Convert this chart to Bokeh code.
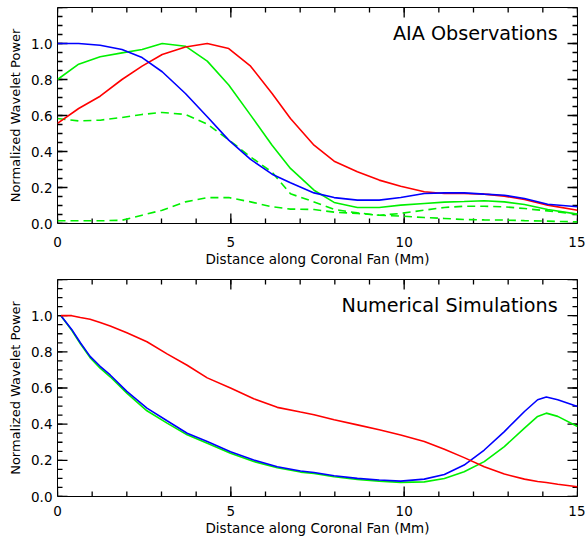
import numpy as np
from bokeh.plotting import figure
from bokeh.models import (LinearAxis, SingleIntervalTicker, PrintfTickFormatter,
                          Label, Range1d)
from bokeh.layouts import column
from bokeh.embed import file_html
from bokeh.resources import INLINE

FONT = "DejaVu Sans"

# ---------------- AIA observations (top panel) ----------------
x_obs = [0, 0.61, 1.23, 1.86, 2.44, 3.02, 3.69, 4.32, 4.94, 5.57, 6.19, 6.72,
         7.4, 7.98, 8.65, 9.28, 9.9, 10.58, 11.16, 11.73, 12.31, 12.89, 13.47,
         14.14, 15.0]
obs_blue = [1.0, 1.0, 0.99, 0.967, 0.922, 0.843, 0.722, 0.593, 0.463, 0.356,
            0.274, 0.226, 0.17, 0.144, 0.13, 0.13, 0.144, 0.167, 0.17, 0.17,
            0.163, 0.157, 0.139, 0.107, 0.093]
obs_red = [0.556, 0.639, 0.707, 0.80, 0.874, 0.939, 0.981, 1.0, 0.972, 0.874,
           0.722, 0.583, 0.435, 0.346, 0.287, 0.241, 0.207, 0.176, 0.167,
           0.167, 0.163, 0.152, 0.133, 0.102, 0.074]
obs_green = [0.80, 0.885, 0.926, 0.948, 0.967, 1.0, 0.985, 0.902, 0.769, 0.602,
             0.435, 0.306, 0.185, 0.117, 0.089, 0.089, 0.102, 0.111, 0.119,
             0.122, 0.126, 0.12, 0.106, 0.078, 0.052]
obs_green_hi = [0.583, 0.570, 0.574, 0.589, 0.606, 0.617, 0.606, 0.552, 0.465,
                0.37, 0.285, 0.165, 0.12, 0.078, 0.059, 0.046, 0.056, 0.074,
                0.089, 0.096, 0.096, 0.093, 0.083, 0.07, 0.052]
obs_green_lo = [0.015, 0.015, 0.015, 0.018, 0.046, 0.074, 0.12, 0.144, 0.144,
                0.12, 0.093, 0.08, 0.078, 0.063, 0.056, 0.046, 0.041, 0.033,
                0.028, 0.022, 0.02, 0.019, 0.016, 0.013, 0.009]

# ---------------- Numerical simulations (bottom panel) ----------------
x_sim = [0.1, 0.41, 0.66, 0.94, 1.23, 1.52, 2.0, 2.58, 3.16, 3.74, 4.32, 4.99,
         5.66, 6.34, 7.01, 7.4, 7.98, 8.65, 9.28, 9.9, 10.58, 11.16, 11.73,
         12.31, 12.89, 13.47, 13.85, 14.1, 14.43, 15.0]
sim_red = [1.0, 1.0, 0.99, 0.98, 0.962, 0.943, 0.906, 0.856, 0.789, 0.726,
           0.656, 0.6, 0.541, 0.493, 0.467, 0.452, 0.424, 0.396, 0.369, 0.34,
           0.304, 0.261, 0.215, 0.165, 0.124, 0.096, 0.083, 0.077, 0.068, 0.054]
sim_blue = [1.0, 0.924, 0.85, 0.775, 0.72, 0.672, 0.581, 0.489, 0.419, 0.35,
            0.304, 0.248, 0.202, 0.165, 0.141, 0.133, 0.115, 0.1, 0.091, 0.085,
            0.096, 0.122, 0.174, 0.257, 0.359, 0.47, 0.535, 0.55, 0.535, 0.498]
sim_green = [1.0, 0.919, 0.845, 0.768, 0.71, 0.662, 0.572, 0.474, 0.406, 0.341,
             0.294, 0.239, 0.193, 0.159, 0.135, 0.128, 0.109, 0.094, 0.085,
             0.078, 0.081, 0.1, 0.137, 0.193, 0.276, 0.378, 0.443, 0.461,
             0.443, 0.387]

x_label = "Distance along Coronal Fan (Mm)"
y_label = "Normalized Wavelet Power"

X_MIN, X_MAX, X_MAJOR, X_MINOR = 0, 15, 5, 1
Y_MIN, Y_MAX, Y_MAJOR, Y_MINOR = 0, 1.2, 0.2, 0.05

WIDTH = 585
BORDER_L, BORDER_R = 57, 8
MAJOR_PX, MINOR_PX = 10, 5

RED, GREEN, BLUE = "#ff0000", "#00f000", "#0000ff"
LW = 1.6


def label_axis(ax, tick_standoff, label_standoff):
    ax.axis_line_color = None
    ax.major_tick_line_color = None
    ax.minor_tick_line_color = None
    ax.major_tick_out = 0
    ax.minor_tick_out = 0
    ax.major_tick_in = 0
    ax.minor_tick_in = 0
    ax.major_label_text_font = FONT
    ax.major_label_text_font_size = "13.5px"
    ax.major_label_text_color = "black"
    ax.major_label_standoff = tick_standoff
    ax.axis_label_text_font = FONT
    ax.axis_label_text_font_size = "13.5px"
    ax.axis_label_text_font_style = "normal"
    ax.axis_label_text_color = "black"
    ax.axis_label_standoff = label_standoff


def inward_ticks(p, frame_h):
    # IDL-style inward ticks on all four sides (pixel lengths -> data units)
    frame_w = WIDTH - BORDER_L - BORDER_R
    dx = (X_MAX - X_MIN) / frame_w
    dy = (Y_MAX - Y_MIN) / frame_h
    xs_list, ys_list = [], []
    for step, px in ((X_MAJOR, MAJOR_PX), (X_MINOR, MINOR_PX)):
        for xv in np.arange(X_MIN, X_MAX + 1e-9, step):
            xs_list += [[xv, xv], [xv, xv]]
            ys_list += [[Y_MIN, Y_MIN + px * dy], [Y_MAX, Y_MAX - px * dy]]
    for step, px in ((Y_MAJOR, MAJOR_PX), (Y_MINOR, MINOR_PX)):
        for yv in np.arange(Y_MIN, Y_MAX + 1e-9, step):
            xs_list += [[X_MIN, X_MIN + px * dx], [X_MAX, X_MAX - px * dx]]
            ys_list += [[yv, yv], [yv, yv]]
    p.multi_line(xs_list, ys_list, line_color="#000000", line_width=1.3)


def make_panel(height, btop, bbottom, title, tick_standoff):
    p = figure(width=WIDTH, height=height, x_range=Range1d(X_MIN, X_MAX),
               y_range=Range1d(Y_MIN, Y_MAX), output_backend="svg",
               toolbar_location=None, x_axis_type=None, y_axis_type=None,
               min_border_left=BORDER_L, min_border_right=BORDER_R,
               min_border_top=btop, min_border_bottom=bbottom)
    p.outline_line_color = "black"
    p.background_fill_color = "white"
    p.border_fill_color = "white"

    xb = LinearAxis(ticker=SingleIntervalTicker(interval=X_MAJOR,
                                                num_minor_ticks=5),
                    axis_label=x_label)
    label_axis(xb, tick_standoff, 1)
    p.add_layout(xb, "below")

    yl = LinearAxis(ticker=SingleIntervalTicker(interval=Y_MAJOR,
                                                num_minor_ticks=4),
                    axis_label=y_label,
                    formatter=PrintfTickFormatter(format="%.1f"))
    label_axis(yl, 5, 5)
    yl.axis_label_text_font_size = "13px"
    p.add_layout(yl, "left")

    inward_ticks(p, height - btop - bbottom)

    p.add_layout(Label(x=14.43, y=1.058, text=title, text_align="right",
                       text_baseline="middle", text_font=FONT,
                       text_font_size="19.2px", text_color="black"))
    return p


p1 = make_panel(270, 7, 47, "AIA Observations", 13)
p1.line(x_obs, obs_green_lo, line_color=GREEN, line_width=LW, line_dash="8 5")
p1.line(x_obs, obs_green_hi, line_color=GREEN, line_width=LW, line_dash="8 5")
p1.line(x_obs, obs_green, line_color=GREEN, line_width=LW)
p1.line(x_obs, obs_red, line_color=RED, line_width=LW)
p1.line(x_obs, obs_blue, line_color=BLUE, line_width=LW)

p2 = make_panel(268, 9, 42, "Numerical Simulations", 9)
p2.line(x_sim, sim_green, line_color=GREEN, line_width=LW)
p2.line(x_sim, sim_blue, line_color=BLUE, line_width=LW)
p2.line(x_sim, sim_red, line_color=RED, line_width=LW)

layout = column(p1, p2)
open("out.html", "w").write(file_html(layout, INLINE))
